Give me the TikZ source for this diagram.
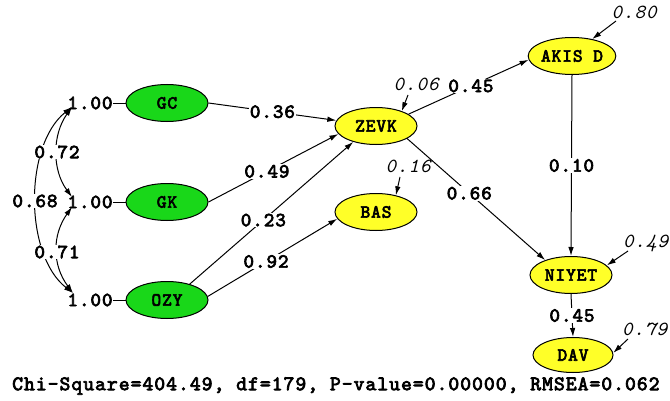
\documentclass[tikz,border=0pt]{standalone}
\usepackage{fontspec}
\newfontfamily\cour{lmmono10-regular.otf}[BoldFont=lmmono10-regular.otf,BoldFeatures={FakeBold=3.5},ItalicFont=lmmono10-italic.otf,LetterSpace=5]
\usetikzlibrary{shapes.geometric,arrows.meta}
\definecolor{lgreen}{RGB}{25,215,25}
\definecolor{lyellow}{RGB}{255,255,40}
\begin{document}
\begin{tikzpicture}[
  latent/.style={ellipse,draw=black,line width=1pt,minimum width=82pt,minimum height=37pt,inner sep=0pt,font=\cour\bfseries\fontsize{18.5}{18.5}\selectfont},
  gnode/.style={latent,fill=lgreen},
  ynode/.style={latent,fill=lyellow},
  coef/.style={font=\cour\bfseries\fontsize{20}{20}\selectfont,fill=white,inner sep=1pt},
  onelab/.style={font=\cour\bfseries\fontsize{20}{20}\selectfont,inner sep=0.5pt},
  err/.style={font=\cour\itshape\fontsize{20}{20}\selectfont,inner sep=0pt},
  arr/.style={-{Latex[length=9pt,width=5.5pt]},line width=1pt},
  darr/.style={{Latex[length=9pt,width=5.5pt]}-{Latex[length=9pt,width=5.5pt]},line width=1pt},
  plain/.style={line width=1pt},
]
\useasboundingbox (0,0) rectangle (670pt,400pt);
\begin{scope}[x=1pt,y=1pt]
% exogenous
\node[gnode] (gc) at (167,297) {GC};
\node[gnode] (gk) at (167,198) {GK};
\node[gnode] (ozy) at (167,100) {OZY};
% endogenous
\node[ynode] (zevk) at (376,274) {ZEVK};
\node[ynode] (bas) at (376,188) {BAS};
\node[ynode,minimum width=84pt] (akis) at (572,344) {AKIS D};
\node[ynode] (niyet) at (571,125) {NIYET};
\node[ynode,minimum width=80pt,minimum height=35pt] (dav) at (573,45) {DAV};
% variance labels
\node[onelab] (o1) at (90,297) {1.00};
\node[onelab] (o2) at (90,198) {1.00};
\node[onelab] (o3) at (90,100) {1.00};
\draw[plain] (o1.east) -- (gc.west);
\draw[plain] (o2.east) -- (gk.west);
\draw[plain] (o3.east) -- (ozy.west);
\coordinate (p1) at (72,293);
\coordinate (p2t) at (72,203);
\coordinate (p2b) at (72,193);
\coordinate (p3) at (73,107);
% covariances
\draw[darr] (p1) .. controls (52,265) and (52,230) .. (p2t);
\draw[darr] (p2b) .. controls (52,165) and (52,135) .. (p3);
\draw[darr] (p1) .. controls (24,255) and (24,145) .. (p3);
\node[coef] (c72) at (57,248) {0.72};
\node[coef] (c71) at (57,148) {0.71};
\node[coef] (c68) at (35,199) {0.68};
% paths
\draw[arr] (gc.east) -- node[coef,pos=0.5] {0.36} (zevk.172);
\draw[arr] (gk.east) -- node[coef,pos=0.45] {0.49} (zevk.192);
\draw[arr] (ozy.35) -- node[coef,pos=0.45] {0.23} (zevk.215);
\draw[arr] (ozy.5) -- node[coef,pos=0.45] {0.92} (bas.190);
\draw[arr] (zevk.20) -- node[coef,pos=0.52] {0.45} (akis.185);
\draw[arr] (zevk.-22) -- node[coef,pos=0.45] {0.66} (niyet.150);
\draw[arr] (akis.south) -- node[coef] {0.10} (niyet.north);
\draw[arr] (niyet.south) -- node[coef] {0.45} (dav.north);
% errors
\node[err] (e1) at (634,388) {0.80};
\coordinate (t1) at (616,379);
\draw[arr] (t1) -- (akis.40);
\node[err] (e2) at (416,316) {0.06};
\coordinate (t2) at (408,305);
\draw[arr] (t2) -- (zevk.30);
\node[err] (e3) at (408,234) {0.16};
\coordinate (t3) at (400,223);
\draw[arr] (t3) -- (bas.40);
\node[err,anchor=west] (e4) at (623,157) {0.49};
\coordinate (t4) at (628,149);
\draw[arr] (t4) -- (niyet.15);
\node[err,anchor=west] (e5) at (622,71) {0.79};
\coordinate (t5) at (628,61);
\draw[arr] (t5) -- (dav.3);
% fit statistics
\node[font=\cour\bfseries\fontsize{20.6}{20.6}\selectfont,inner sep=0pt,anchor=west] (fit) at (12,14) {Chi-Square=404.49, df=179, P-value=0.00000, RMSEA=0.062};
\end{scope}
\end{tikzpicture}
\end{document}
